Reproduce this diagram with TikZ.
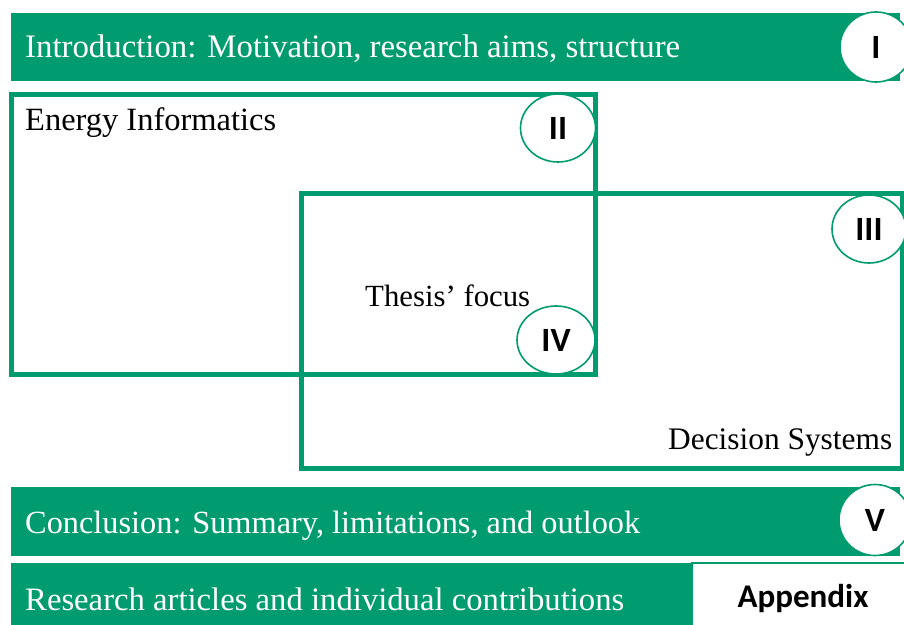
\documentclass[tikz,border=0pt]{standalone}
\usepackage{fontspec}
\setmainfont{Liberation Serif}
\newfontfamily\numfont{Carlito}
\usetikzlibrary{shapes.geometric}
\definecolor{tgreen}{RGB}{0,156,112}
\begin{document}
\begin{tikzpicture}[x=1pt,y=-1pt,
  band/.style={fill=tgreen, draw=none, anchor=north west, inner sep=0pt, outer sep=0pt},
  areabox/.style={draw=tgreen, line width=5pt, anchor=north west, inner sep=0pt, outer sep=0pt},
  numell/.style={ellipse, draw=tgreen, line width=1.6pt, fill=white, inner sep=0pt,
    font=\numfont\bfseries\fontsize{34}{34}\selectfont},
  wlabel/.style={text=white, anchor=base west, inner sep=0pt, font=\fontsize{31}{31}\selectfont},
  blabel/.style={text=black, anchor=base west, inner sep=0pt, font=\fontsize{31}{31}\selectfont}]
\useasboundingbox (0,0) rectangle (904,624);
\begin{scope}
\clip (0,0) rectangle (904,624);
% bands
\node[band, minimum width=889pt, minimum height=68pt] (intro) at (11,13) {};
\node[band, minimum width=889pt, minimum height=69pt] (concl) at (11,487) {};
\node[band, minimum width=681pt, minimum height=70pt] (research) at (11,563) {};
\node[draw=tgreen, line width=1.5pt, fill=white, anchor=north west, inner sep=0pt, outer sep=0pt,
  minimum width=230pt, minimum height=80pt] (appx) at (692,563) {};
% area boxes
\node[areabox, minimum width=584pt, minimum height=280pt] (ei) at (11.5,94.5) {};
\node[areabox, minimum width=601.5pt, minimum height=274.5pt] (ds) at (301,193.5) {};
% texts
\node[wlabel] (tintro) at (25,57.5) {\resizebox{655pt}{!}{Introduction: Motivation, research aims, structure}};
\node[blabel] (tei) at (25,130) {\resizebox{251pt}{!}{Energy Informatics}};
\node[blabel] (tfocus) at (365,306) {\resizebox{165pt}{!}{Thesis’ focus}};
\node[blabel] (tds) at (668,449) {\resizebox{224pt}{!}{Decision Systems}};
\node[wlabel] (tconcl) at (25,533) {\resizebox{615pt}{!}{Conclusion: Summary, limitations, and outlook}};
\node[wlabel] (tres) at (25,610) {\resizebox{599pt}{!}{Research articles and individual contributions}};
\node[anchor=base, inner sep=0pt, font=\numfont\bfseries\fontsize{32}{32}\selectfont] (tappx) at (803,607) {\resizebox{131pt}{!}{Appendix}};
% numbered ellipses
\node[numell, minimum width=72pt, minimum height=70pt] (nI) at (876,47) {I};
\node[numell, minimum width=75pt, minimum height=68pt] (nII) at (558,128) {II};
\node[numell, minimum width=74pt, minimum height=68pt] (nIII) at (869,229) {III};
\node[numell, minimum width=78pt, minimum height=68pt] (nIV) at (556,340) {IV};
\node[numell, minimum width=72pt, minimum height=71pt] (nV) at (875,520) {V};
\end{scope}
\end{tikzpicture}
\end{document}
